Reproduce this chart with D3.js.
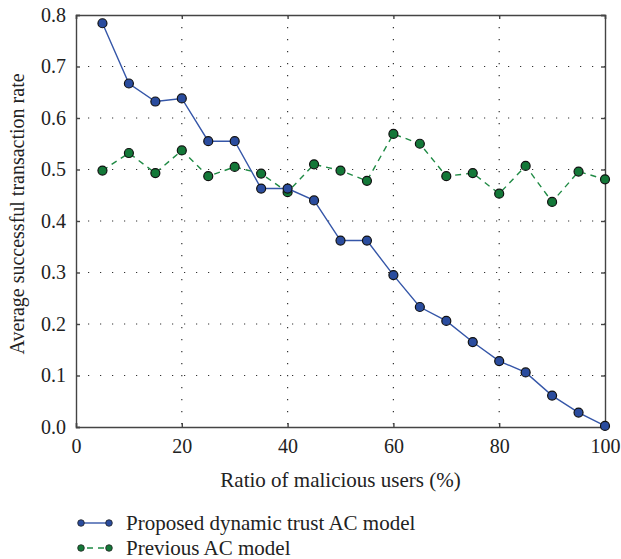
<!DOCTYPE html>
<html>
<head>
<meta charset="utf-8">
<script src="https://cdn.jsdelivr.net/npm/d3@7"></script>
<style>
  body { margin: 0; background: #fff; }
  svg, svg text { font-family: "Liberation Serif", "DejaVu Serif", serif; }
</style>
</head>
<body>
<svg id="chart" width="621" height="559"></svg>
<script>
const ratios = [5, 10, 15, 20, 25, 30, 35, 40, 45, 50, 55, 60, 65, 70, 75, 80, 85, 90, 95, 100];
const proposed = [0.784, 0.667, 0.632, 0.638, 0.555, 0.555, 0.463, 0.463, 0.440, 0.362,
                  0.362, 0.295, 0.233, 0.206, 0.165, 0.128, 0.106, 0.061, 0.028, 0.002];
const previous = [0.498, 0.532, 0.493, 0.537, 0.487, 0.505, 0.492, 0.456, 0.510, 0.498,
                  0.478, 0.569, 0.550, 0.487, 0.493, 0.453, 0.507, 0.437, 0.496, 0.481];
const xTicks = [0, 20, 40, 60, 80, 100];
const yTicks = [0.0, 0.1, 0.2, 0.3, 0.4, 0.5, 0.6, 0.7, 0.8];
const seriesNames = ['Proposed dynamic trust AC model', 'Previous AC model'];

const svg = d3.select('#chart');
const plotLeft = 76, plotRight = 605, plotTop = 15, plotBottom = 427;

const x = d3.scaleLinear().domain([0, 100]).range([plotLeft, plotRight]);
const y = d3.scaleLinear().domain([0, 0.8]).range([plotBottom, plotTop]);

// dotted grid
svg.append('g').selectAll('line')
  .data(xTicks.slice(1, -1))
  .enter().append('line')
  .attr('x1', d => x(d)).attr('x2', d => x(d))
  .attr('y1', plotTop).attr('y2', plotBottom)
  .attr('stroke', '#333').attr('stroke-width', 1.2)
  .attr('stroke-dasharray', '1.2,10.8');

svg.append('g').selectAll('line')
  .data(yTicks.slice(1, -1))
  .enter().append('line')
  .attr('x1', plotLeft).attr('x2', plotRight)
  .attr('y1', d => y(d)).attr('y2', d => y(d))
  .attr('stroke', '#333').attr('stroke-width', 1.2)
  .attr('stroke-dasharray', '1.2,10.8');

// axes with inward ticks
const fmt = d3.format('.1f');
const styleTicks = g => g.attr('font-family', null)
  .selectAll('text').attr('font-size', 20).attr('fill', '#222');
svg.append('g')
  .attr('transform', `translate(0,${plotBottom})`)
  .call(d3.axisBottom(x).tickValues(xTicks).tickSize(-4).tickPadding(12))
  .call(styleTicks);
svg.append('g')
  .attr('transform', `translate(${plotLeft},0)`)
  .call(d3.axisLeft(y).tickValues(yTicks).tickFormat(fmt).tickSize(-4).tickPadding(10))
  .call(styleTicks);
svg.append('g')
  .attr('transform', `translate(0,${plotTop})`)
  .call(d3.axisTop(x).tickValues(xTicks).tickSize(-4).tickFormat(''));
svg.append('g')
  .attr('transform', `translate(${plotRight},0)`)
  .call(d3.axisRight(y).tickValues(yTicks).tickSize(-4).tickFormat(''));
svg.selectAll('.domain').attr('stroke', '#444').attr('stroke-width', 1.4);
svg.selectAll('.tick line').attr('stroke', '#444').attr('stroke-width', 1.4);

// titles
svg.append('text')
  .attr('x', (plotLeft + plotRight) / 2).attr('y', 487)
  .attr('text-anchor', 'middle').attr('font-size', 21).attr('fill', '#222')
  .text('Ratio of malicious users (%)');
svg.append('text')
  .attr('transform', 'translate(24,214) rotate(-90)')
  .attr('text-anchor', 'middle').attr('font-size', 20).attr('fill', '#222')
  .text('Average successful transaction rate');

const series = [
  { name: seriesNames[0], values: proposed, color: '#3556a8', fill: '#2a4c9e', dash: null },
  { name: seriesNames[1], values: previous, color: '#1f8a44', fill: '#137838', dash: '6,5' }
];

const line = d3.line().x((d, i) => x(ratios[i])).y(d => y(d));

series.slice().reverse().forEach(s => {
  svg.append('path')
    .datum(s.values)
    .attr('d', line)
    .attr('fill', 'none')
    .attr('stroke', s.color).attr('stroke-width', 1.4)
    .attr('stroke-dasharray', s.dash);
  svg.append('g').selectAll('circle')
    .data(s.values)
    .enter().append('circle')
    .attr('cx', (d, i) => x(ratios[i])).attr('cy', d => y(d))
    .attr('r', 4.5)
    .attr('fill', s.fill).attr('stroke', '#111').attr('stroke-width', 1.2);
});

// legend
const legend = svg.append('g');
series.forEach((s, i) => {
  const ly = 523 + i * 25;
  legend.append('line')
    .attr('x1', 81).attr('x2', 109).attr('y1', ly).attr('y2', ly)
    .attr('stroke', s.color).attr('stroke-width', 1.4)
    .attr('stroke-dasharray', s.dash ? '6,5' : null)
    .attr('stroke-dashoffset', s.dash ? -6 : 0);
  [81, 109].forEach(cx => {
    legend.append('circle')
      .attr('cx', cx).attr('cy', ly).attr('r', 3.3)
      .attr('fill', s.fill).attr('stroke', '#222').attr('stroke-width', 0.8);
  });
  legend.append('text')
    .attr('x', 126).attr('y', ly + 6.5)
    .attr('font-size', 21).attr('fill', '#222')
    .text(s.name);
});
</script>
</body>
</html>
